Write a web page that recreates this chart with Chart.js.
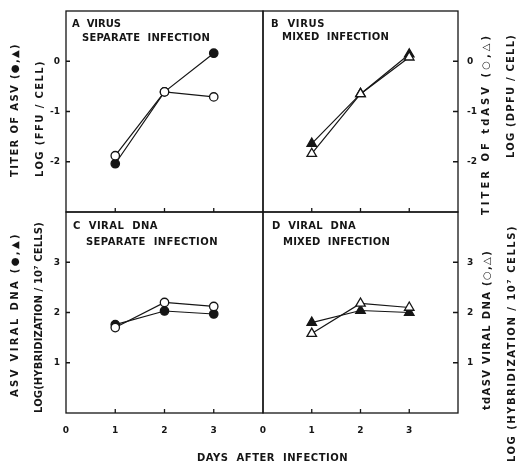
<!DOCTYPE html>
<html>
<head>
<meta charset="utf-8">
<script src="https://cdn.jsdelivr.net/npm/chart.js@4.4.1/dist/chart.umd.min.js"></script>
<style>
  body { margin: 0; background: #fff; }
  #wrap { position: relative; width: 518px; height: 463px; }
  #wrap canvas { position: absolute; left: 0; top: 0; }
</style>
</head>
<body>
<div id="wrap">
  <canvas id="panelA" width="518" height="463"></canvas>
  <canvas id="panelB" width="518" height="463"></canvas>
  <canvas id="panelC" width="518" height="463"></canvas>
  <canvas id="panelD" width="518" height="463"></canvas>
</div>
<script>
// --- data ---
const days = [1, 2, 3];
const xTickValues = [0, 1, 2, 3];
const virusTickValues = [-2, -1, 0];
const dnaTickValues = [1, 2, 3];

// A  virus, separate infection  (ASV = filled, tdASV = open)
const virusSepAsv = [-2.04, -0.61, 0.16];
const virusSepTdAsv = [-1.88, -0.61, -0.71];
// B  virus, mixed infection
const virusMixAsv = [-1.64, -0.65, 0.14];
const virusMixTdAsv = [-1.84, -0.65, 0.08];
// C  viral DNA, separate infection
const dnaSepAsv = [1.76, 2.03, 1.97];
const dnaSepTdAsv = [1.70, 2.20, 2.12];
// D  viral DNA, mixed infection
const dnaMixAsv = [1.80, 2.04, 2.00];
const dnaMixTdAsv = [1.58, 2.18, 2.10];

const W = 518, H = 463;
const ink = '#151515';
const tickFont = { family: '"DejaVu Sans"', weight: 'bold', size: 9 };

// text around the panels: [text, x, y, length, rotated]
const texts = [
  ['A  VIRUS', 72, 27, 49, false],
  ['SEPARATE  INFECTION', 82, 41, 128, false],
  ['B  VIRUS', 271, 27, 54, false],
  ['MIXED  INFECTION', 282, 40, 107, false],
  ['C  VIRAL  DNA', 73, 229, 85, false],
  ['SEPARATE  INFECTION', 86, 245, 132, false],
  ['D  VIRAL  DNA', 272, 229, 84, false],
  ['MIXED  INFECTION', 283, 245, 107, false],
  ['DAYS  AFTER  INFECTION', 197, 461, 151, false],
  ['TITER OF ASV (\u25CF,\u25B2)', 15, 177, 134, true],
  ['LOG (FFU / CELL)', 40, 177, 117, true],
  ['ASV VIRAL DNA (\u25CF,\u25B2)', 15, 397, 165, true],
  ['LOG(HYBRIDIZATION / 10\u2077 CELLS)', 39, 413, 191, true],
  ['TITER OF tdASV (\u25CB,\u25B3)', 486, 215, 182, true],
  ['LOG (DPFU / CELL)', 511, 158, 124, true],
  ['tdASV VIRAL DNA (\u25CB,\u25B3)', 487, 410, 160, true],
  ['LOG (HYBRIDIZATION / 10\u2077 CELLS)', 512, 462, 237, true],
];

function drawText(ctx, [text, x, y, len, rot]) {
  ctx.save();
  ctx.font = 'bold 10px "DejaVu Sans"';
  ctx.fillStyle = ink;
  ctx.letterSpacing = '0px';
  const w = ctx.measureText(text).width;
  ctx.letterSpacing = ((len - w) / text.length).toFixed(2) + 'px';
  ctx.translate(x, y);
  if (rot) ctx.rotate(-Math.PI / 2);
  ctx.textAlign = 'left';
  ctx.textBaseline = rot ? 'middle' : 'alphabetic';
  ctx.fillText(text, 0, 0);
  ctx.restore();
}

// frame + inward tick marks, plus the free text (only on one panel)
const framePlugin = {
  id: 'frame',
  afterDraw(chart, args, opts) {
    const { ctx, chartArea: a, scales } = chart;
    ctx.save();
    ctx.strokeStyle = ink;
    ctx.lineWidth = 1.3;
    ctx.strokeRect(a.left, a.top, a.right - a.left, a.bottom - a.top);
    ctx.beginPath();
    days.forEach(d => {
      const px = scales.x.getPixelForValue(d);
      ctx.moveTo(px, a.bottom);
      ctx.lineTo(px, a.bottom - 4);
    });
    opts.yTicks.forEach(v => {
      const py = scales.y.getPixelForValue(v);
      if (opts.ySide === 'left') {
        ctx.moveTo(a.left, py);
        ctx.lineTo(a.left + 4, py);
      } else {
        ctx.moveTo(a.right, py);
        ctx.lineTo(a.right - 5, py);
      }
    });
    ctx.stroke();
    ctx.restore();
    if (opts.withText) texts.forEach(t => drawText(ctx, t));
  }
};

// no automatic padding: the frame must sit exactly on the panel box
function noPad(s) {
  s.paddingTop = s.paddingBottom = s.paddingLeft = s.paddingRight = 0;
}

function makePanel(id, box, yMin, yMax, yTicks, ySide, showX, shape, asv, tdAsv, withText) {
  const ds = (vals, fill) => ({
    data: days.map((d, i) => ({ x: d, y: vals[i] })),
    borderColor: ink,
    borderWidth: 1.2,
    pointStyle: shape,
    pointRadius: shape === 'triangle' ? 5.5 : 4.2,
    pointBackgroundColor: fill,
    pointBorderColor: ink,
    pointBorderWidth: 1.3,
    tension: 0,
    fill: false
  });
  const left = ySide === 'left';
  return new Chart(document.getElementById(id), {
    type: 'line',
    data: { datasets: [ds(tdAsv, '#fff'), ds(asv, ink)] },
    options: {
      responsive: false,
      animation: false,
      layout: { padding: { left: left ? 0 : box.l, top: box.t, right: left ? W - box.r : 0, bottom: 0 } },
      plugins: {
        legend: { display: false },
        tooltip: { enabled: false },
        frame: { yTicks, ySide, withText }
      },
      scales: {
        x: {
          type: 'linear', min: 0, max: 4,
          afterBuildTicks: s => { s.ticks = xTickValues.map(v => ({ value: v })); },
          afterFit: s => { s.height = H - box.b; noPad(s); },
          grid: { display: false, drawTicks: false }, border: { display: false },
          ticks: { display: showX, padding: 12, color: ink, font: tickFont, maxRotation: 0, autoSkip: false }
        },
        y: {
          type: 'linear', position: ySide, min: yMin, max: yMax,
          afterBuildTicks: s => { s.ticks = yTicks.map(v => ({ value: v })); },
          afterFit: s => { s.width = left ? box.l : W - box.r; noPad(s); },
          grid: { display: false, drawTicks: false }, border: { display: false },
          ticks: { padding: left ? 6 : 9, color: ink, font: tickFont, autoSkip: false }
        }
      }
    },
    plugins: [framePlugin]
  });
}

makePanel('panelA', { l: 66, t: 11, r: 263, b: 212 }, -3, 1, virusTickValues, 'left', false, 'circle', virusSepAsv, virusSepTdAsv, true);
makePanel('panelB', { l: 263, t: 11, r: 458, b: 212 }, -3, 1, virusTickValues, 'right', false, 'triangle', virusMixAsv, virusMixTdAsv, false);
makePanel('panelC', { l: 66, t: 212, r: 263, b: 413 }, 0, 4, dnaTickValues, 'left', true, 'circle', dnaSepAsv, dnaSepTdAsv, false);
makePanel('panelD', { l: 263, t: 212, r: 458, b: 413 }, 0, 4, dnaTickValues, 'right', true, 'triangle', dnaMixAsv, dnaMixTdAsv, false);
</script>
</body>
</html>
